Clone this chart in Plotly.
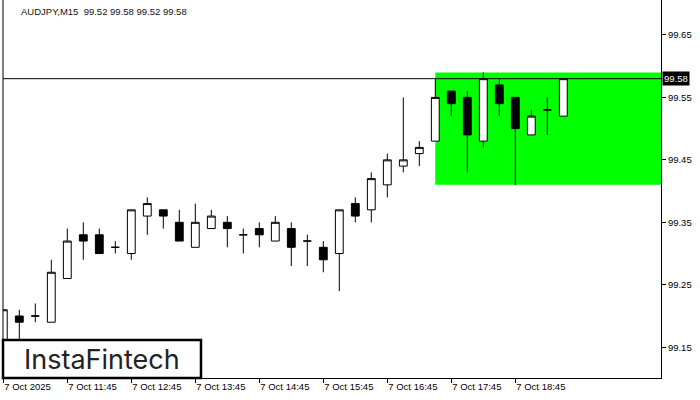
import plotly.graph_objects as go

# ---- data ----
bar_index = list(range(36))
opens  = [99.15, 99.20, 99.20, 99.19, 99.26, 99.33, 99.33, 99.31, 99.30, 99.36,
          99.37, 99.35, 99.31, 99.34, 99.35, 99.33, 99.34, 99.32, 99.34, 99.32,
          99.31, 99.30, 99.38, 99.37, 99.41, 99.44, 99.46, 99.48, 99.56, 99.55,
          99.48, 99.57, 99.55, 99.49, 99.53, 99.52]
highs  = [99.21, 99.21, 99.22, 99.29, 99.34, 99.35, 99.34, 99.32, 99.37, 99.39,
          99.37, 99.37, 99.38, 99.37, 99.36, 99.34, 99.35, 99.36, 99.35, 99.33,
          99.32, 99.37, 99.39, 99.43, 99.46, 99.55, 99.48, 99.58, 99.56, 99.56,
          99.59, 99.58, 99.55, 99.53, 99.55, 99.58]
lows   = [99.13, 99.15, 99.19, 99.19, 99.26, 99.29, 99.30, 99.30, 99.29, 99.33,
          99.34, 99.32, 99.31, 99.34, 99.31, 99.30, 99.31, 99.32, 99.28, 99.28,
          99.27, 99.24, 99.35, 99.35, 99.39, 99.43, 99.44, 99.48, 99.52, 99.43,
          99.47, 99.52, 99.41, 99.49, 99.49, 99.52]
closes = [99.21, 99.19, 99.20, 99.27, 99.32, 99.32, 99.30, 99.31, 99.37, 99.38,
          99.36, 99.32, 99.35, 99.36, 99.34, 99.33, 99.33, 99.35, 99.31, 99.32,
          99.29, 99.37, 99.36, 99.42, 99.45, 99.45, 99.47, 99.55, 99.54, 99.49,
          99.58, 99.54, 99.50, 99.52, 99.53, 99.58]

x_tick_index = [0, 4, 8, 12, 16, 20, 24, 28, 32]
x_tick_labels = ["7 Oct 2025", "7 Oct 11:45", "7 Oct 12:45", "7 Oct 13:45", "7 Oct 14:45",
                 "7 Oct 15:45", "7 Oct 16:45", "7 Oct 17:45", "7 Oct 18:45"]
y_ticks = [99.15, 99.25, 99.35, 99.45, 99.55, 99.65]
y_tick_labels = ["99.15", "99.25", "99.35", "99.45", "99.55", "99.65"]

current_price = 99.58
zone_start_index = 27
zone_low, zone_high = 99.41, 99.59
title_text = "AUDJPY,M15  99.52 99.58 99.52 99.58"
logo_text = "InstaFintech"

x_range = [-0.019, 41.106]
y_range = [99.1007, 99.7060]

FONT = "Liberation Sans"

fig = go.Figure()
fig.add_trace(go.Candlestick(
    x=bar_index, open=opens, high=highs, low=lows, close=closes,
    increasing=dict(line=dict(color="black", width=1), fillcolor="white"),
    decreasing=dict(line=dict(color="black", width=1), fillcolor="black"),
    hoverinfo="skip", showlegend=False,
))

shapes = [
    dict(type="rect", xref="x", yref="y", x0=zone_start_index, x1=x_range[1],
         y0=zone_low, y1=zone_high, fillcolor="#00FF00", line=dict(width=0), layer="below"),
    dict(type="line", xref="paper", yref="y", x0=0, x1=1, y0=current_price, y1=current_price,
         line=dict(color="black", width=1), layer="above"),
    dict(type="line", xref="paper", yref="paper", x0=0, x1=0, y0=0, y1=1,
         line=dict(color="black", width=1), layer="above"),
    dict(type="rect", xref="paper", yref="paper", x0=0.0, x1=0.3009, y0=0.0, y1=0.1005,
         fillcolor="white", line=dict(color="black", width=2.5), layer="above"),
]

annotations = [
    dict(text=title_text, xref="paper", yref="paper", x=0.0243, y=1 - 4 / 378,
         xanchor="left", yanchor="top", showarrow=False,
         font=dict(family=FONT, size=9.5, color="#111")),
    dict(text="99.58", xref="paper", yref="y", x=1, y=current_price, xanchor="left",
         yanchor="middle", xshift=1, showarrow=False, bgcolor="black", borderpad=1,
         font=dict(family=FONT, size=9.5, color="white")),
    dict(text=logo_text, xref="paper", yref="paper", x=0.1505, y=0.05,
         xanchor="center", yanchor="middle", showarrow=False,
         font=dict(family="Inter", size=27, color="#222")),
]

fig.update_layout(
    width=700, height=400,
    margin=dict(l=3, r=39, t=0, b=22, autoexpand=False),
    paper_bgcolor="white", plot_bgcolor="white",
    shapes=shapes, annotations=annotations,
    font=dict(family=FONT, size=9.5, color="black"),
    xaxis=dict(range=x_range, tickmode="array", tickvals=x_tick_index, ticktext=x_tick_labels,
               ticks="outside", ticklen=4, tickcolor="black", showline=True, linecolor="black",
               linewidth=1, showgrid=False, zeroline=False, ticklabelposition="outside right",
               rangeslider=dict(visible=False), fixedrange=True, automargin=False,
               tickfont=dict(family=FONT, size=9.5, color="black")),
    yaxis=dict(range=y_range, side="right", tickmode="array", tickvals=y_ticks,
               ticktext=y_tick_labels, ticks="outside", ticklen=4, tickcolor="black",
               showline=True, linecolor="black", linewidth=1, showgrid=False, zeroline=False,
               fixedrange=True, automargin=False,
               tickfont=dict(family=FONT, size=9.5, color="black")),
)

fig.write_html("out.html", config={"displayModeBar": False},
               post_script="document.body.style.margin='0';document.body.style.overflow='hidden';")
